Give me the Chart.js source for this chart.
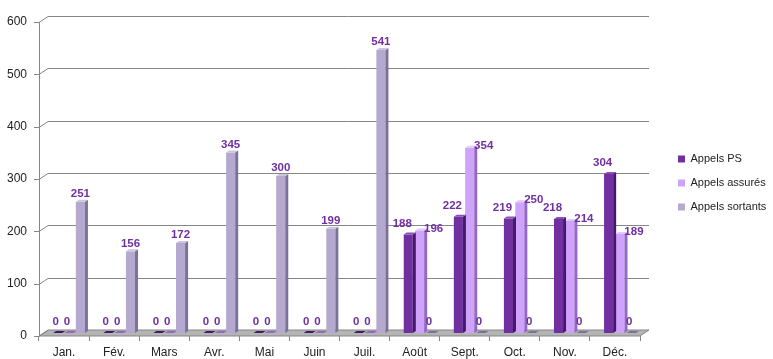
<!DOCTYPE html>
<html>
<head>
<meta charset="utf-8">
<script src="https://cdn.jsdelivr.net/npm/chart.js@4.4.1/dist/chart.umd.min.js"></script>
<style>
  html, body { margin: 0; padding: 0; background: #fff; }
  #wrap { width: 773px; height: 359px; }
</style>
</head>
<body>
<div id="wrap"><canvas id="chart"></canvas></div>
<script>
const months = ['Jan.', 'Fév.', 'Mars', 'Avr.', 'Mai', 'Juin', 'Juil.', 'Août', 'Sept.', 'Oct.', 'Nov.', 'Déc.'];
const appelsPS = [0, 0, 0, 0, 0, 0, 0, 188, 222, 219, 218, 304];
const appelsAssures = [0, 0, 0, 0, 0, 0, 0, 196, 354, 250, 214, 189];
const appelsSortants = [251, 156, 172, 345, 300, 199, 541, 0, 0, 0, 0, 0];
const yTicks = [0, 100, 200, 300, 400, 500, 600];

// 3D look
const DX = 9, DY = -6;   // back wall offset
const BX = 5, BY = -3;   // bars stand in the middle of the floor
const SX = 3, SY = -2;   // bar depth
const frontColors = ['#7030a0', '#cfa3fc', '#b6a9d0'];
const sideColors = ['#45196a', '#9468c4', '#7c7297'];
const topColors = ['#8a4cbb', '#e2c6ff', '#cdc3e2'];
const labelOffsets = [{dx: -6, dy: -11}, {dx: 14, dy: -2}, {dx: 0, dy: -8}];
const FONT = '"Liberation Sans", Arial, sans-serif';

const depth = {
  id: 'depth',
  afterLayout(chart) {
    // nudge the legend a little lower, as in the original
    chart.legend.top += 4;
    chart.legend.bottom += 4;
  },
  beforeDatasetsDraw(chart) {
    const {ctx, chartArea: a, scales: {y}} = chart;
    ctx.save();
    ctx.strokeStyle = '#868686';
    ctx.lineWidth = 1;
    // floor
    ctx.fillStyle = '#b4b4b4';
    ctx.beginPath();
    ctx.moveTo(a.left, a.bottom);
    ctx.lineTo(a.right, a.bottom);
    ctx.lineTo(a.right + DX, a.bottom + DY);
    ctx.lineTo(a.left + DX, a.bottom + DY);
    ctx.closePath();
    ctx.fill();
    ctx.stroke();
    // grid on the back wall + small ticks on the front axis
    yTicks.forEach(v => {
      const py = Math.round(y.getPixelForValue(v)) + 0.5;
      ctx.beginPath();
      ctx.moveTo(a.left - 5, py);
      ctx.lineTo(a.left, py);
      ctx.lineTo(a.left + DX, py + DY);
      if (v > 0) ctx.lineTo(a.right + DX, py + DY);
      ctx.stroke();
    });
    ctx.beginPath();
    ctx.moveTo(a.left + 0.5, a.top);
    ctx.lineTo(a.left + 0.5, a.bottom);
    ctx.stroke();
    ctx.restore();
    ctx.save();
    ctx.translate(BX, BY);
  },
  afterDatasetsDraw(chart) {
    const ctx = chart.ctx;
    chart.data.datasets.forEach((ds, i) => {
      chart.getDatasetMeta(i).data.forEach(bar => {
        const l = bar.x - bar.width / 2, r = bar.x + bar.width / 2, t = bar.y, b = bar.base;
        ctx.fillStyle = sideColors[i];
        ctx.beginPath();
        ctx.moveTo(r, t); ctx.lineTo(r + SX, t + SY); ctx.lineTo(r + SX, b + SY); ctx.lineTo(r, b);
        ctx.closePath(); ctx.fill();
        ctx.fillStyle = b - t < 1 ? sideColors[i] : topColors[i];
        ctx.beginPath();
        ctx.moveTo(l, t); ctx.lineTo(r, t); ctx.lineTo(r + SX, t + SY); ctx.lineTo(l + SX, t + SY);
        ctx.closePath(); ctx.fill();
      });
    });
    ctx.restore();

    // value labels
    ctx.save();
    ctx.font = 'bold 11.5px ' + FONT;
    ctx.fillStyle = '#7030a0';
    ctx.textAlign = 'center';
    ctx.textBaseline = 'middle';
    chart.data.datasets.forEach((ds, i) => {
      chart.getDatasetMeta(i).data.forEach((bar, j) => {
        const v = ds.data[j];
        const off = v === 0 ? {dx: -2, dy: -11} : labelOffsets[i];
        ctx.fillText(String(v), bar.x + BX + off.dx, bar.y + BY + off.dy);
      });
    });
    ctx.restore();
  }
};

const makeSet = (label, data, i) => ({
  label: label,
  data: data,
  backgroundColor: frontColors[i],
  borderWidth: 0,
  categoryPercentage: 0.68,
  barPercentage: 0.8,
  clip: false
});

new Chart(document.getElementById('chart'), {
  type: 'bar',
  data: {
    labels: months,
    datasets: [
      makeSet('Appels PS', appelsPS, 0),
      makeSet('Appels assurés', appelsAssures, 1),
      makeSet('Appels sortants', appelsSortants, 2)
    ]
  },
  plugins: [depth],
  options: {
    responsive: true,
    maintainAspectRatio: false,
    animation: false,
    layout: { padding: { top: 22, left: 7, bottom: 0, right: 0 } },
    plugins: {
      legend: {
        position: 'right',
        fullSize: false,
        maxWidth: 108,
        labels: {
          boxWidth: 7,
          boxHeight: 7,
          padding: 13,
          color: '#222',
          font: { family: FONT, size: 11 }
        }
      },
      tooltip: { enabled: false }
    },
    scales: {
      x: {
        grid: { display: true, drawOnChartArea: false, drawTicks: true, tickLength: 5, offset: true, color: '#868686' },
        border: { display: false },
        ticks: { color: '#222', padding: 4, font: { family: FONT, size: 12 } },
        afterFit(scale) { scale.height = 23; }
      },
      y: {
        min: 0,
        max: 600,
        grid: { display: false, drawTicks: false },
        border: { display: false },
        ticks: { stepSize: 100, color: '#222', padding: 12, font: { family: FONT, size: 12 } },
        afterFit(scale) { scale.width = 32; }
      },
      y2: {
        position: 'right',
        display: true,
        grid: { display: false, drawTicks: false },
        border: { display: false },
        ticks: { display: false },
        afterFit(scale) { scale.width = 25; }
      }
    }
  }
});
</script>
</body>
</html>
